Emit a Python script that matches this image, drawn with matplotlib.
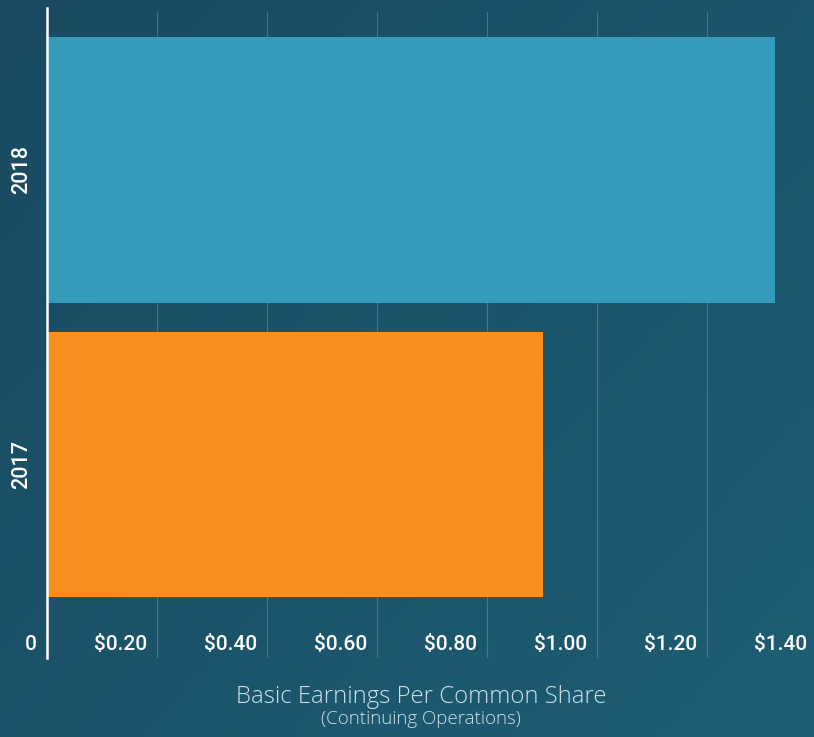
import numpy as np
import matplotlib
matplotlib.use("Agg")
import matplotlib.pyplot as plt
from matplotlib.transforms import offset_copy

years = ["2017", "2018"]
eps = [0.902, 1.324]
bar_colors = ["#f7901f", "#359bbc"]
tick_values = [0, 0.2, 0.4, 0.6, 0.8, 1.0, 1.2, 1.4]
tick_labels = ["0", "$0.20", "$0.40", "$0.60", "$0.80", "$1.00", "$1.20", "$1.40"]

W, H = 814, 737
fig = plt.figure(figsize=(W / 100, H / 100), dpi=100)

# dark teal backdrop, slightly lighter towards the bottom right
bg = fig.add_axes([0, 0, 1, 1], zorder=-10)
yy, xx = np.mgrid[0:1:200j, 0:1:200j]
shade = 0.55 * xx + 0.45 * yy
c0 = np.array([0x19, 0x4a, 0x61]) / 255
c1 = np.array([0x1e, 0x5e, 0x73]) / 255
img = c0[None, None, :] * (1 - shade[..., None]) + c1[None, None, :] * shade[..., None]
bg.imshow(img, aspect="auto", extent=[0, 1, 0, 1], origin="upper")
bg.axis("off")

ax = fig.add_axes([47 / W, (H - 658) / H, 770 / W, 650 / H])
ax.set_facecolor("none")

y = np.arange(len(years))
ax.barh(y, eps, height=0.9, color=bar_colors, zorder=3)
ax.set_xlim(0, 1.4)
ax.set_ylim(-0.657, 1.55)

for v in tick_values[1:]:
    ax.axvline(v, ymax=0.994, color="#5f8ea0", lw=0.8, alpha=0.6, zorder=1)

for s in ["top", "right", "bottom"]:
    ax.spines[s].set_visible(False)
ax.spines["left"].set_color("white")
ax.spines["left"].set_linewidth(1.8)
ax.spines["left"].set_zorder(5)

ax.set_xticks([])
ax.set_yticks(y)
ax.set_yticklabels(years, rotation=90, va="center", color="white",
                   fontsize=15.5, family="Roboto", fontweight="medium")
ax.tick_params(axis="y", length=0, pad=11)

trans = offset_copy(ax.get_xaxis_transform(), fig=fig, x=-10, y=0, units="dots")
for v, lab in zip(tick_values, tick_labels):
    ax.text(v, 0.02, lab, transform=trans, ha="right", va="center",
            color="white", fontsize=15, family="Roboto", fontweight="medium",
            clip_on=False)

fig.text(421 / W, (H - 697) / H, "Basic Earnings Per Common Share",
         ha="center", va="center", color="#cde2ea", fontsize=17.2,
         family="Open Sans", fontweight="light")
fig.text(421 / W, (H - 719) / H, "(Continuing Operations)",
         ha="center", va="center", color="#cde2ea", fontsize=13.5,
         family="Open Sans", fontweight="light")

fig.savefig("out.png", dpi=100)
